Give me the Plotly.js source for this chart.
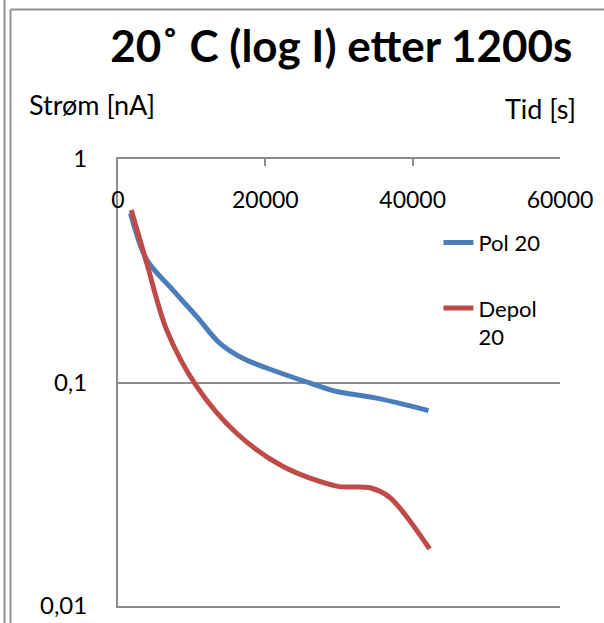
<!DOCTYPE html>
<html>
<head>
<meta charset="utf-8">
<script src="https://cdn.plot.ly/plotly-3.0.1.min.js"></script>
<style>
  html, body { margin: 0; padding: 0; background: #ffffff; }
  #chart { width: 604px; height: 623px; }
</style>
</head>
<body>
<div id="chart"></div>
<script>
// Time in seconds and current in nA, polarisation and depolarisation at 20 °C
const polTime   = [1700, 3900, 7000, 10700, 13800, 17000, 21500, 26100, 29700, 35100, 42150];
const polCurr   = [0.572, 0.354, 0.269, 0.197, 0.150, 0.128, 0.112, 0.0993, 0.0911, 0.0851, 0.0749];
const depolTime = [1800, 3900, 6600, 10700, 16100, 22400, 29700, 34200, 36900, 42300];
const depolCurr = [0.591, 0.342, 0.172, 0.0959, 0.0593, 0.0421, 0.0344, 0.0338, 0.0306, 0.0180];

const seriesNames = ['Pol 20', 'Depol<br>20'];
const xTicks = [0, 20000, 40000, 60000];
const xTickText = ['0', '20000', '40000', '60000'];
const yTicks = [1, 0.1, 0.01];
const yTickText = ['1', '0,1', '0,01'];

const FONT = 'Lato, "Open Sans", sans-serif';
const AXIS_GREY = '#8c8c8c';
const FRAME_GREY = '#929292';

const traces = [
  {
    x: polTime, y: polCurr, name: seriesNames[0], legendgroup: 'a',
    type: 'scatter', mode: 'lines',
    line: { color: '#4a7ebb', width: 5, shape: 'spline', smoothing: 0.9 }
  },
  {
    x: depolTime, y: depolCurr, name: seriesNames[1], legendgroup: 'b',
    type: 'scatter', mode: 'lines',
    line: { color: '#be4b48', width: 5, shape: 'spline', smoothing: 0.9 }
  }
];

const layout = {
  width: 604, height: 623,
  margin: { l: 118, r: 44, t: 159, b: 17 },
  paper_bgcolor: '#ffffff', plot_bgcolor: '#ffffff',
  font: { family: FONT, size: 22, color: '#000000' },
  title: {
    text: '<b>20˚ C (log I) etter 1200s</b>',
    font: { family: FONT, size: 44, color: '#000000' },
    x: 0.565, xanchor: 'center', y: 0.925, yanchor: 'middle'
  },
  xaxis: {
    type: 'linear', range: [0, 60000], side: 'top',
    tickvals: xTicks, ticktext: xTickText,
    ticks: 'inside', ticklen: 7, tickwidth: 2, tickcolor: AXIS_GREY,
    ticklabelposition: 'inside', ticklabeloverflow: 'allow', ticklabelstandoff: 28,
    showline: true, linecolor: AXIS_GREY, linewidth: 2, mirror: true,
    showgrid: false, zeroline: false,
    tickfont: { family: FONT, size: 23, color: '#000000' }
  },
  yaxis: {
    type: 'log', range: [-2, 0],
    tickvals: yTicks, ticktext: yTickText,
    ticks: '', showline: true, linecolor: AXIS_GREY, linewidth: 2,
    showgrid: true, gridcolor: AXIS_GREY, gridwidth: 2, zeroline: false,
    ticklabelstandoff: 24,
    tickfont: { family: FONT, size: 24, color: '#000000' }
  },
  showlegend: true,
  legend: {
    x: 0.725, xanchor: 'left', y: 0.86, yanchor: 'top',
    bgcolor: 'rgba(0,0,0,0)', borderwidth: 0,
    traceorder: 'grouped', tracegroupgap: 34, valign: 'top',
    font: { family: FONT, size: 22, color: '#000000' }
  },
  annotations: [
    { text: 'Strøm [nA]', xref: 'paper', yref: 'paper', x: -0.207, y: 1.123,
      xanchor: 'left', yanchor: 'middle', showarrow: false,
      font: { family: FONT, size: 27, color: '#000000' } },
    { text: 'Tid [s]', xref: 'paper', yref: 'paper', x: 1.04, y: 1.112,
      xanchor: 'right', yanchor: 'middle', showarrow: false,
      font: { family: FONT, size: 27, color: '#000000' } }
  ],
  shapes: [
    // double rule on the left and top rule of the sheet frame
    { type: 'line', xref: 'paper', yref: 'paper', x0: -0.2568, x1: -0.2568, y0: -0.04, y1: 1.36,
      line: { color: FRAME_GREY, width: 2 } },
    { type: 'line', xref: 'paper', yref: 'paper', x0: -0.2432, x1: -0.2432, y0: -0.04, y1: 1.3345,
      line: { color: FRAME_GREY, width: 2 } },
    { type: 'line', xref: 'paper', yref: 'paper', x0: -0.2432, x1: 1.11, y0: 1.3345, y1: 1.3345,
      line: { color: FRAME_GREY, width: 2 } }
  ]
};

Plotly.newPlot('chart', traces, layout, { displayModeBar: false, staticPlot: true });
</script>
</body>
</html>
